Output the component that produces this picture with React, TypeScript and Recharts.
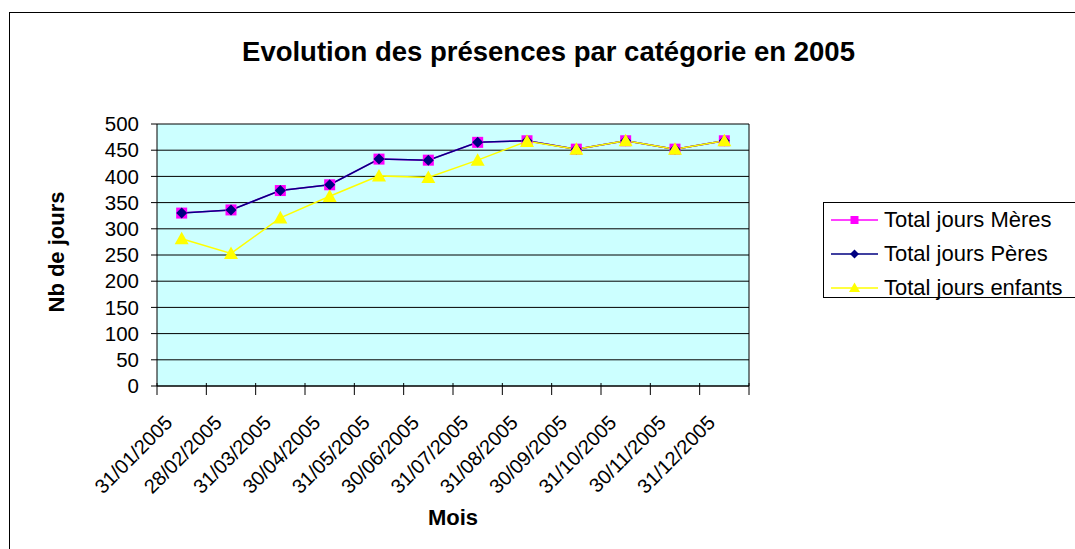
import React from "react";
import { CartesianGrid, Line, LineChart, XAxis, YAxis } from "recharts";

const months = [
  "31/01/2005",
  "28/02/2005",
  "31/03/2005",
  "30/04/2005",
  "31/05/2005",
  "30/06/2005",
  "31/07/2005",
  "31/08/2005",
  "30/09/2005",
  "31/10/2005",
  "30/11/2005",
  "31/12/2005"
];
const meres = [330, 336, 373, 384, 433, 431, 465, 468, 452, 468, 452, 468];
const peres = [330, 336, 373, 384, 433, 431, 465, 468, 452, 468, 452, 468];
const enfants = [281, 253, 321, 362, 401, 398, 431, 467, 452, 468, 452, 468];
const yTicks = [0, 50, 100, 150, 200, 250, 300, 350, 400, 450, 500];

const data = months.map((mois, i) => ({
  mois,
  meres: meres[i],
  peres: peres[i],
  enfants: enfants[i]
}));

const FONT = '"Liberation Sans", Arial, sans-serif';
const MAGENTA = "#ff00ff";
const NAVY = "#000080";
const YELLOW = "#ffff00";

type DotProps = { cx?: number; cy?: number; index?: number };

const square = (size: number, color: string) => (p: DotProps) =>
  p.cx == null || p.cy == null ? null : (
    <rect
      key={`sq-${p.index}`}
      x={p.cx - size / 2}
      y={p.cy - size / 2}
      width={size}
      height={size}
      fill={color}
    />
  );

const diamond = (size: number, color: string) => (p: DotProps) => {
  if (p.cx == null || p.cy == null) return null;
  const r = size / 2;
  const { cx, cy } = p;
  return (
    <polygon
      key={`di-${p.index}`}
      points={`${cx},${cy - r} ${cx + r},${cy} ${cx},${cy + r} ${cx - r},${cy}`}
      fill={color}
    />
  );
};

const triangle = (size: number, color: string) => (p: DotProps) => {
  if (p.cx == null || p.cy == null) return null;
  const r = size / 2;
  const { cx, cy } = p;
  return (
    <polygon
      key={`tr-${p.index}`}
      points={`${cx},${cy - r} ${cx + r},${cy + r * 0.8} ${cx - r},${cy + r * 0.8}`}
      fill={color}
    />
  );
};

function MonthTick(props: any) {
  const { x, y, payload, index } = props;
  const half = payload?.offset ?? 24.7;
  return (
    <g>
      <line x1={x - half} x2={x - half} y1={y - 5} y2={y + 7} stroke="#000" />
      {index === months.length - 1 && (
        <line x1={x + half} x2={x + half} y1={y - 5} y2={y + 7} stroke="#000" />
      )}
      <text
        transform={`translate(${x - 8},${y + 36}) rotate(-45)`}
        textAnchor="end"
        fontSize={20}
        fontFamily={FONT}
        fill="#000"
      >
        {payload.value}
      </text>
    </g>
  );
}

const legendItems = [
  { label: "Total jours Mères", color: MAGENTA, marker: "square" },
  { label: "Total jours Pères", color: NAVY, marker: "diamond" },
  { label: "Total jours enfants", color: YELLOW, marker: "triangle" }
];

function LegendMarker({ color, marker }: { color: string; marker: string }) {
  return (
    <svg width={47} height={16} style={{ display: "block" }}>
      <line x1={0} x2={47} y1={8} y2={8} stroke={color} strokeWidth={1.5} />
      {marker === "square" && <rect x={19.5} y={4} width={8} height={8} fill={color} />}
      {marker === "diamond" && <polygon points="23.5,3.5 28,8 23.5,12.5 19,8" fill={color} />}
      {marker === "triangle" && <polygon points="23.5,2.5 29,12 18,12" fill={color} />}
    </svg>
  );
}

export default function App() {
  return (
    <div
      style={{
        position: "absolute",
        left: 0,
        top: 0,
        width: 1075,
        height: 549,
        overflow: "hidden",
        background: "#fff",
        fontFamily: FONT
      }}
    >
      <div
        style={{
          position: "absolute",
          left: 9,
          top: 12,
          width: 1200,
          height: 700,
          border: "1.5px solid #000"
        }}
      />
      <div
        style={{
          position: "absolute",
          left: 0,
          top: 38,
          width: 1097,
          textAlign: "center",
          fontSize: 27.5,
          lineHeight: "27px",
          fontWeight: "bold",
          color: "#000"
        }}
      >
        Evolution des présences par catégorie en 2005
      </div>
      <div style={{ position: "absolute", left: 0, top: 0 }}>
        <LineChart
          width={1075}
          height={549}
          data={data}
          margin={{ top: 124, right: 266, bottom: 63, left: 97 }}
        >
          <CartesianGrid
            yAxisId="left"
            vertical={false}
            stroke="#000"
            strokeOpacity={1}
            fill="#ccffff"
            fillOpacity={1}
          />
          <XAxis
            dataKey="mois"
            scale="band"
            height={100}
            interval={0}
            tickSize={0}
            tickLine={false}
            axisLine={{ stroke: "#000" }}
            tick={<MonthTick />}
          />
          <YAxis
            yAxisId="left"
            width={60}
            domain={[0, 500]}
            ticks={yTicks}
            interval={0}
            tickSize={6}
            tickMargin={12}
            axisLine={{ stroke: "#000" }}
            tickLine={{ stroke: "#000" }}
            tick={{ fill: "#000", fontSize: 20.5, fontFamily: FONT }}
          />
          <YAxis
            yAxisId="right"
            orientation="right"
            width={60}
            domain={[0, 500]}
            ticks={yTicks}
            interval={0}
            tickSize={6}
            tickMargin={8}
            axisLine={{ stroke: "#000" }}
            tickLine={{ stroke: "#000" }}
            tick={{ fill: "#000", fontSize: 20.5, fontFamily: FONT, textAnchor: "start" }}
          />
          <Line
            yAxisId="left"
            dataKey="meres"
            name="Total jours Mères"
            stroke={MAGENTA}
            strokeWidth={1.5}
            dot={square(11, MAGENTA)}
            activeDot={false}
            isAnimationActive={false}
          />
          <Line
            yAxisId="left"
            dataKey="peres"
            name="Total jours Pères"
            stroke={NAVY}
            strokeWidth={1.5}
            dot={diamond(11, NAVY)}
            activeDot={false}
            isAnimationActive={false}
          />
          <Line
            yAxisId="left"
            dataKey="enfants"
            name="Total jours enfants"
            stroke={YELLOW}
            strokeWidth={1.5}
            dot={triangle(14, YELLOW)}
            activeDot={false}
            isAnimationActive={false}
          />
        </LineChart>
      </div>
      <div
        style={{
          position: "absolute",
          left: 57,
          top: 252,
          transform: "translate(-50%, -50%) rotate(-90deg)",
          fontSize: 22,
          lineHeight: "22px",
          fontWeight: "bold",
          whiteSpace: "nowrap",
          color: "#000"
        }}
      >
        Nb de jours
      </div>
      <div
        style={{
          position: "absolute",
          left: 353,
          top: 507,
          width: 200,
          textAlign: "center",
          fontSize: 22,
          lineHeight: "22px",
          fontWeight: "bold",
          color: "#000"
        }}
      >
        Mois
      </div>
      <div
        style={{
          position: "absolute",
          left: 823,
          top: 202,
          width: 246,
          height: 94,
          border: "1px solid #000",
          paddingTop: 0,
          paddingLeft: 7,
          boxSizing: "content-box"
        }}
      >
        {legendItems.map((item) => (
          <div
            key={item.label}
            style={{ display: "flex", alignItems: "center", height: 34, whiteSpace: "nowrap" }}
          >
            <LegendMarker color={item.color} marker={item.marker} />
            <span style={{ marginLeft: 6, fontSize: 22, color: "#000" }}>{item.label}</span>
          </div>
        ))}
      </div>
    </div>
  );
}
